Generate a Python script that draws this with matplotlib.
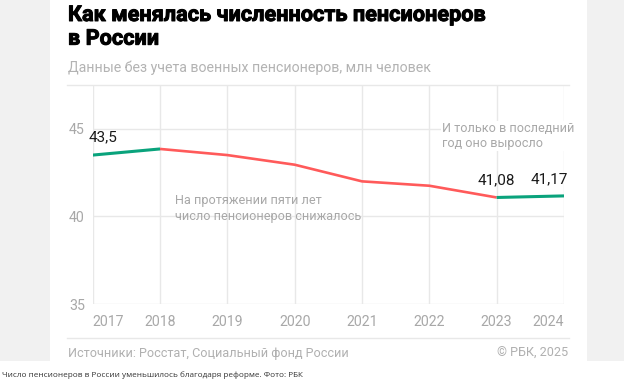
import matplotlib
matplotlib.use("Agg")
import matplotlib.pyplot as plt
from matplotlib.lines import Line2D
from matplotlib.patches import Rectangle
import matplotlib.patheffects as pe

years = [2017, 2018, 2019, 2020, 2021, 2022, 2023, 2024]
pensioners = [43.5, 43.85, 43.5, 42.95, 42.0, 41.75, 41.08, 41.17]
rising_idx = [(0, 1), (6, 7)]
falling_idx = (1, 6)
yticks = [35, 40, 45]
labels = {0: "43,5", 6: "41,08", 7: "41,17"}

GREEN = "#0aa37c"
RED = "#ff5a5a"
GRID = "#e8e8e8"
GRAY_TXT = "#a8a8a8"

W, H = 624, 385
fig = plt.figure(figsize=(W / 100, H / 100), dpi=100)
fig.patch.set_facecolor("#f1f1f1")

def fx(px):
    return px / W

def fy(py):
    return 1 - py / H

# white panel and caption area
fig.add_artist(Rectangle((fx(50), fy(361)), fx(587) - fx(50), 1 - fy(361),
                         transform=fig.transFigure, facecolor="white", edgecolor="none", zorder=0))
fig.add_artist(Rectangle((0, 0), 1, fy(361), transform=fig.transFigure,
                         facecolor="white", edgecolor="none", zorder=0))

font = "Roboto"

fig.text(fx(68), fy(4), "Как менялась численность пенсионеров\nв России",
         ha="left", va="top", fontsize=15.6, fontweight="bold", family=font,
         color="black", linespacing=1.1,
         path_effects=[pe.withStroke(linewidth=0.7, foreground="black")])
fig.text(fx(68), fy(68), "Данные без учета военных пенсионеров, млн человек",
         ha="left", va="center", fontsize=10.2, family=font, color="#b3b3b3")

# separators
fig.add_artist(Line2D([fx(67), fx(569)], [fy(85), fy(85)], color=GRID, lw=1.0))
fig.add_artist(Line2D([fx(67), fx(569)], [fy(338), fy(338)], color=GRID, lw=1.0))

ax = fig.add_axes([fx(92.7), fy(304), fx(564) - fx(92.7), fy(85) - fy(304)])
ax.set_facecolor("none")
ax.set_xlim(years[0], years[-1])
ax.set_ylim(35, 47.5)
for s in ax.spines.values():
    s.set_visible(False)

for y in years:
    ax.axvline(y, color=GRID, lw=1.0, zorder=1)
for t in yticks:
    ax.axhline(t, color=GRID, lw=1.0, zorder=1)

ax.set_xticks(years, [str(y) for y in years])
ax.set_yticks(yticks, [str(t) for t in yticks])
ax.tick_params(length=0, colors=GRAY_TXT, labelsize=10.2)
ax.tick_params(axis="x", pad=8)
ax.tick_params(axis="y", pad=17)
for lab in ax.get_yticklabels():
    lab.set_horizontalalignment("left")
    lab.set_family(font)
xl = ax.get_xticklabels()
for lab in xl:
    lab.set_family(font)
xl[0].set_horizontalalignment("left")
xl[-1].set_horizontalalignment("right")

# lines
a, b = falling_idx
ax.plot(years[a:b + 1], pensioners[a:b + 1], color=RED, lw=1.9, zorder=3,
        solid_capstyle="butt")
for a, b in rising_idx:
    ax.plot(years[a:b + 1], pensioners[a:b + 1], color=GREEN, lw=2.2, zorder=4,
            solid_capstyle="butt")

# value labels
ax.annotate(labels[0], (years[0], pensioners[0]), xytext=(-4, 11), textcoords="offset pixels",
            ha="left", va="bottom", fontsize=11, family=font, color="#1a1a1a")
ax.annotate(labels[6], (years[6], pensioners[6]), xytext=(0, 10), textcoords="offset pixels",
            ha="center", va="bottom", fontsize=11, family=font, color="#1a1a1a")
ax.annotate(labels[7], (years[7], pensioners[7]), xytext=(4, 10), textcoords="offset pixels",
            ha="right", va="bottom", fontsize=11, family=font, color="#1a1a1a")

# annotations
fig.text(fx(175), fy(209), "На протяжении пяти лет\nчисло пенсионеров снижалось",
         ha="left", va="center", fontsize=9.1, family=font, color=GRAY_TXT, linespacing=1.3)
fig.text(fx(442), fy(136), "И только в последний\nгод оно выросло",
         ha="left", va="center", fontsize=9.1, family=font, color=GRAY_TXT, linespacing=1.3,
         bbox=dict(facecolor="white", edgecolor="none", pad=0.5), zorder=5)

# footer
fig.text(fx(68), fy(353), "Источники: Росстат, Социальный фонд России",
         ha="left", va="center", fontsize=9.1, family=font, color="#b0b0b0")
fig.text(fx(568), fy(353), "© РБК, 2025",
         ha="right", va="center", fontsize=9.1, family=font, color="#b0b0b0")
fig.text(fx(2), fy(375), "Число пенсионеров в России уменьшилось благодаря реформе. Фото: РБК",
         ha="left", va="center", fontsize=5.9, family="Open Sans", color="#333333")

fig.savefig("out.png", dpi=100)
